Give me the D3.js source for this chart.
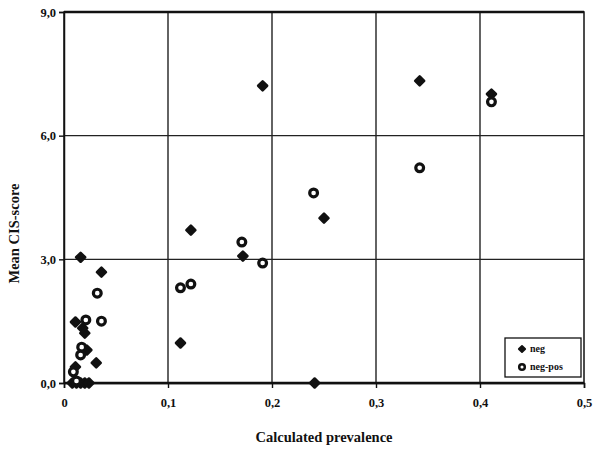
<!DOCTYPE html>
<html>
<head>
<meta charset="utf-8">
<script src="https://cdn.jsdelivr.net/npm/d3@7"></script>
<style>
  body { margin: 0; background: #fff; }
  svg text { font-family: "Liberation Serif", "DejaVu Serif", serif; font-weight: bold; fill: #111; }
</style>
</head>
<body>
<svg id="chart" width="600" height="453"></svg>
<script>
// series "neg" (filled markers)
const negX = [0.191, 0.342, 0.411, 0.250, 0.122, 0.172, 0.112, 0.241, 0.016, 0.036, 0.011, 0.018, 0.020, 0.022, 0.031, 0.011, 0.008, 0.012, 0.016, 0.020, 0.024];
const negY = [7.21, 7.33, 7.01, 4.00, 3.71, 3.08, 0.97, 0.00, 3.05, 2.69, 1.48, 1.33, 1.21, 0.80, 0.49, 0.39, 0.00, 0.00, 0.00, 0.00, 0.00];
// series "neg-pos" (open markers)
const posX = [0.411, 0.342, 0.240, 0.171, 0.191, 0.122, 0.112, 0.032, 0.036, 0.021, 0.017, 0.016, 0.009, 0.012];
const posY = [6.82, 5.22, 4.61, 3.42, 2.91, 2.40, 2.31, 2.18, 1.50, 1.53, 0.87, 0.68, 0.27, 0.05];

const xTicks = [0, 0.1, 0.2, 0.3, 0.4, 0.5];
const xTickLabels = ["0", "0,1", "0,2", "0,3", "0,4", "0,5"];
const yTicks = [0, 3, 6, 9];
const yTickLabels = ["0,0", "3,0", "6,0", "9,0"];
const seriesNames = ["neg", "neg-pos"];

const margin = {top: 12, right: 16, bottom: 70, left: 64};
const width = 600 - margin.left - margin.right;
const height = 453 - margin.top - margin.bottom;

const svg = d3.select("#chart");
const g = svg.append("g").attr("transform", `translate(${margin.left},${margin.top})`);

const x = d3.scaleLinear().domain([0, 0.5]).range([0, width]);
const y = d3.scaleLinear().domain([0, 9]).range([height, 0]);

// gridlines
g.append("g").selectAll("line")
  .data(xTicks.slice(1, -1))
  .join("line")
  .attr("x1", d => x(d)).attr("x2", d => x(d))
  .attr("y1", 0).attr("y2", height)
  .attr("stroke", "#222").attr("stroke-width", 1.4);

g.append("g").selectAll("line")
  .data(yTicks.slice(1, -1))
  .join("line")
  .attr("x1", 0).attr("x2", width)
  .attr("y1", d => y(d)).attr("y2", d => y(d))
  .attr("stroke", "#222").attr("stroke-width", 1.4);

// frame
g.append("rect")
  .attr("width", width).attr("height", height)
  .attr("fill", "none").attr("stroke", "#111").attr("stroke-width", 1.5);
g.append("line").attr("x1", 0).attr("x2", width).attr("y1", 0).attr("y2", 0)
  .attr("stroke", "#111").attr("stroke-width", 2.5);
g.append("line").attr("x1", 0).attr("x2", width).attr("y1", height).attr("y2", height)
  .attr("stroke", "#111").attr("stroke-width", 2.5);

// axes
const xAxis = g.append("g")
  .attr("transform", `translate(0,${height})`)
  .call(d3.axisBottom(x).tickValues(xTicks).tickFormat((d, i) => xTickLabels[i]).tickSize(5).tickPadding(10));
const yAxis = g.append("g")
  .call(d3.axisLeft(y).tickValues(yTicks).tickFormat((d, i) => yTickLabels[i]).tickSize(5).tickPadding(3));

[xAxis, yAxis].forEach(a => {
  a.select(".domain").attr("stroke", "#111").attr("stroke-width", 1.5);
  a.selectAll(".tick line").attr("stroke", "#111").attr("stroke-width", 1.4);
  a.selectAll("text").attr("font-size", 12.5).attr("font-family", "Liberation Serif").attr("font-weight", "bold");
});

// axis titles
svg.append("text")
  .attr("x", margin.left + width / 2).attr("y", 442)
  .attr("text-anchor", "middle").attr("font-size", 14.5)
  .text("Calculated prevalence");
svg.append("text")
  .attr("transform", `translate(19,${margin.top + height / 2 + 36}) rotate(-90)`)
  .attr("text-anchor", "middle").attr("font-size", 14.5)
  .text("Mean CIS-score");

// markers: filled rounded diamonds and thick rings
const diamond = d3.symbol().type(d3.symbolSquare).size(40);
const negData = negX.map((v, i) => [v, negY[i]]);
const posData = posX.map((v, i) => [v, posY[i]]);

g.append("g").selectAll("path")
  .data(negData)
  .join("path")
  .attr("d", diamond)
  .attr("transform", d => `translate(${x(d[0])},${y(d[1])}) rotate(45)`)
  .attr("fill", "#111").attr("stroke", "#111").attr("stroke-width", 2.6).attr("stroke-linejoin", "round");

g.append("g").selectAll("circle")
  .data(posData)
  .join("circle")
  .attr("cx", d => x(d[0])).attr("cy", d => y(d[1]))
  .attr("r", 3.9).attr("fill", "#fff")
  .attr("stroke", "#111").attr("stroke-width", 3.2);

// legend
const lg = svg.append("g").attr("transform", "translate(505,338)");
lg.append("rect").attr("width", 76).attr("height", 39)
  .attr("fill", "#fff").attr("stroke", "#111").attr("stroke-width", 1.3);
lg.append("path").attr("d", d3.symbol().type(d3.symbolSquare).size(20))
  .attr("transform", "translate(17,11) rotate(45)").attr("fill", "#111")
  .attr("stroke", "#111").attr("stroke-width", 1.8).attr("stroke-linejoin", "round");
lg.append("circle").attr("cx", 17).attr("cy", 29).attr("r", 2.8)
  .attr("fill", "#fff").attr("stroke", "#111").attr("stroke-width", 2.5);
lg.selectAll("text.lab")
  .data(seriesNames)
  .join("text")
  .attr("class", "lab")
  .attr("x", 25).attr("y", (d, i) => 14 + i * 18)
  .attr("font-size", 10)
  .text(d => d);
</script>
</body>
</html>
